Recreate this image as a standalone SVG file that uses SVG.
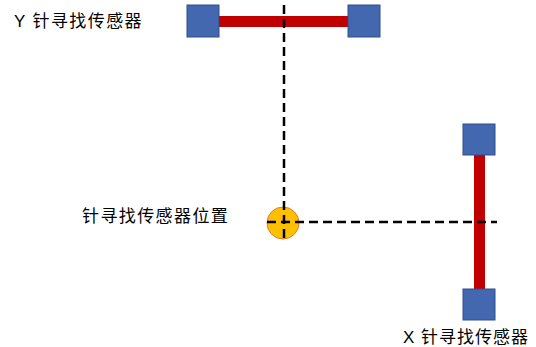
<svg xmlns="http://www.w3.org/2000/svg" width="536" height="347" viewBox="0 0 536 347">
<style>
.lbl{font-family:"Liberation Sans","Noto Sans CJK SC",sans-serif;font-size:17px;letter-spacing:1.4px;fill:#000}
.sq{fill:#4468B0;stroke:#2F4F8A;stroke-width:1}
.bar{fill:#C00000}
.dash{stroke:#000;stroke-width:2.5;stroke-dasharray:9,5;fill:none}
</style>
<rect width="536" height="347" fill="#fff"/>
<g id="y-sensor">
<rect class="bar" x="219" y="16" width="129" height="11"/>
<rect class="sq" x="187" y="5" width="32" height="32"/>
<rect class="sq" x="348" y="5" width="32" height="32"/>
</g>
<g id="x-sensor">
<rect class="bar" x="474" y="155" width="11" height="134"/>
<rect class="sq" x="463" y="124" width="32" height="31"/>
<rect class="sq" x="463" y="289" width="32" height="31"/>
</g>
<g id="position">
<circle cx="283" cy="223" r="16" fill="#FFC000" stroke="#E07B2A" stroke-width="1"/>
</g>
<g id="connectors">
<line class="dash" x1="284" y1="5" x2="284" y2="241"/>
<line class="dash" x1="267" y1="222" x2="497" y2="222"/>
</g>
<g id="labels">
<text class="lbl" x="14" y="27">Y 针寻找传感器</text>
<text class="lbl" x="82" y="222">针寻找传感器位置</text>
<text class="lbl" x="403" y="343" style="letter-spacing:1px">X 针寻找传感器</text>
</g>
</svg>
